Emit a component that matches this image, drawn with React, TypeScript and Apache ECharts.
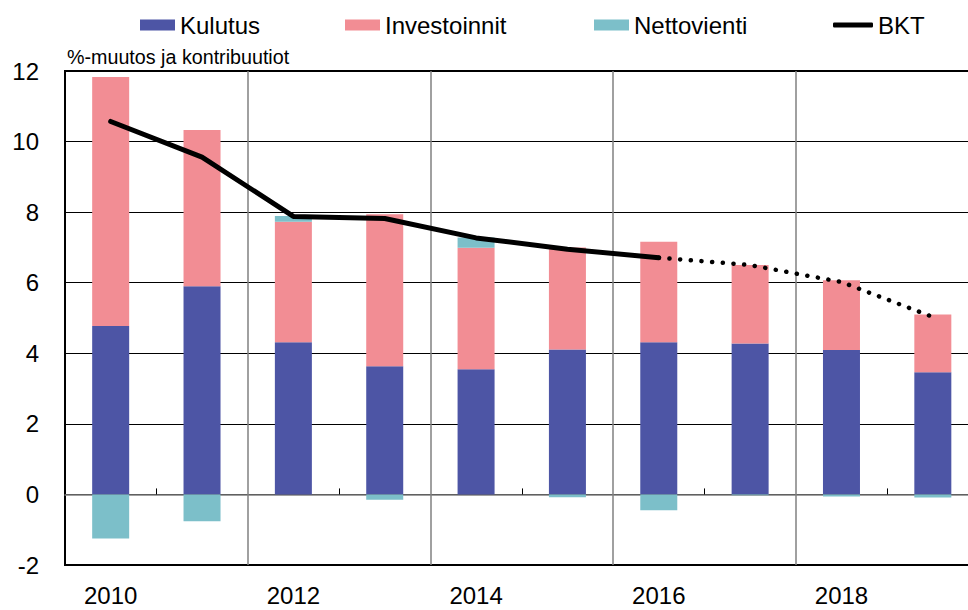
import React, { useEffect, useRef } from "react";
import * as echarts from "echarts";

const years = ["2010", "2011", "2012", "2013", "2014", "2015", "2016", "2017", "2018", "2019"];
const kulutus = [4.77, 5.9, 4.31, 3.63, 3.55, 4.11, 4.31, 4.28, 4.09, 3.46];
const investoinnit = [7.06, 4.43, 3.42, 4.31, 3.44, 2.89, 2.85, 2.22, 1.98, 1.64];
const nettovienti = [-1.25, -0.76, 0.16, -0.15, 0.29, -0.08, -0.45, -0.02, -0.06, -0.09];
const bkt = [10.57, 9.56, 7.88, 7.82, 7.27, 6.95, 6.71, null, null, null];
const bktEnnuste = [null, null, null, null, null, null, 6.71, 6.5, 6.02, 5.03];
const subtitle = "%-muutos ja kontribuutiot";

const FONT = "'Liberation Sans', Arial, Helvetica, sans-serif";
const BLUE = "#4D55A5";
const PINK = "#F28D94";
const TEAL = "#7CBFC9";

export default function App() {
  const ref = useRef<HTMLDivElement>(null);
  useEffect(() => {
    if (!ref.current) return;
    const chart = echarts.init(ref.current, undefined, { renderer: "svg" });
    const legendBase = {
      top: 13,
      padding: 0,
      itemWidth: 35,
      itemHeight: 11,
      icon: "rect",
      selectedMode: false,
      textStyle: { fontSize: 24, color: "#000", fontFamily: FONT },
    };
    chart.setOption({
      animation: false,
      textStyle: { fontFamily: FONT },
      legend: [
        { ...legendBase, left: 140, data: ["Kulutus"] },
        { ...legendBase, left: 345, data: ["Investoinnit"] },
        { ...legendBase, left: 594, data: ["Nettovienti"] },
        { ...legendBase, left: 833, itemWidth: 40, itemHeight: 5, icon: "roundRect", data: ["BKT"] },
      ],
      graphic: [
        {
          type: "text",
          left: 67,
          top: 47,
          style: { text: subtitle, fontSize: 19.7, fill: "#000", fontFamily: FONT },
        },
      ],
      grid: {
        left: 65,
        top: 71,
        width: 913.5,
        height: 494,
        show: true,
        borderColor: "#000",
        borderWidth: 2,
        backgroundColor: "transparent",
      },
      xAxis: [
        {
          type: "category",
          data: years,
          position: "bottom",
          axisLine: { show: false, onZero: false },
          axisTick: { show: false },
          axisLabel: { interval: 1, fontSize: 24, color: "#000", margin: 18, fontFamily: FONT },
          splitLine: {
            show: true,
            interval: (i: number) => i % 2 === 0,
            lineStyle: { color: "#808080", width: 1.5 },
          },
        },
        {
          type: "category",
          data: years,
          position: "bottom",
          axisLine: { show: true, onZero: true, lineStyle: { color: "#808080", width: 1.5 } },
          axisTick: {
            show: true,
            inside: true,
            length: 6,
            interval: (i: number) => i % 2 === 1,
            lineStyle: { color: "#000", width: 1 },
          },
          axisLabel: { show: false },
          splitLine: { show: false },
        },
      ],
      yAxis: {
        type: "value",
        min: -2,
        max: 12,
        interval: 2,
        axisLine: { show: true, lineStyle: { color: "#000", width: 2 } },
        axisTick: { show: false },
        axisLabel: { fontSize: 24, color: "#000", margin: 26, fontFamily: FONT },
        splitLine: { show: true, lineStyle: { color: "#000", width: 1 } },
      },
      series: [
        {
          name: "Kulutus",
          type: "bar",
          stack: "a",
          barWidth: 37,
          data: kulutus,
          itemStyle: { color: BLUE },
        },
        {
          name: "Investoinnit",
          type: "bar",
          stack: "a",
          barWidth: 37,
          data: investoinnit,
          itemStyle: { color: PINK },
        },
        {
          name: "Nettovienti",
          type: "bar",
          stack: "a",
          barWidth: 37,
          data: nettovienti,
          itemStyle: { color: TEAL },
        },
        {
          name: "BKT",
          type: "line",
          data: bkt,
          symbol: "none",
          z: 5,
          itemStyle: { color: "#000" },
          lineStyle: { color: "#000", width: 5, cap: "round", join: "round" },
        },
        {
          name: "BKT ennuste",
          type: "line",
          data: bktEnnuste,
          symbol: "none",
          z: 5,
          itemStyle: { color: "#000" },
          lineStyle: { color: "#000", width: 4.5, type: [0.1, 10.6], cap: "round", join: "round" },
        },
      ],
    });
    return () => chart.dispose();
  }, []);
  return (
    <div
      style={{
        position: "absolute",
        left: 0,
        top: 0,
        width: 968,
        height: 610,
        overflow: "hidden",
        background: "#fff",
      }}
    >
      <div ref={ref} style={{ width: 1000, height: 610 }} />
    </div>
  );
}
